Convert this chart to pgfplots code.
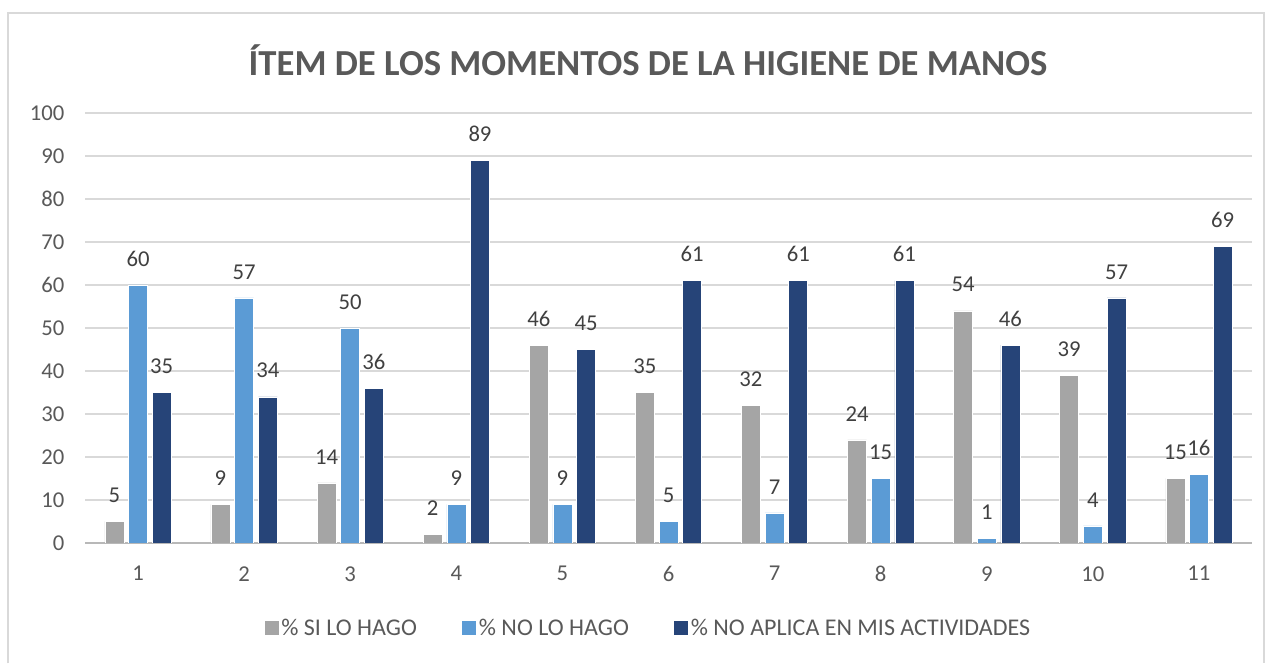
\documentclass[border=0pt]{standalone}
\usepackage{fontspec}
\setmainfont{Carlito}
\usepackage{pgfplots}
\pgfplotsset{compat=1.18}
\definecolor{siGray}{HTML}{A5A5A5}
\definecolor{noBlue}{HTML}{5B9BD5}
\definecolor{naBlue}{HTML}{264478}
\definecolor{txtGray}{HTML}{595959}
\definecolor{lblGray}{HTML}{404040}
\definecolor{gridGray}{HTML}{D9D9D9}

\begin{document}
\begin{tikzpicture}
    % page size (1268x658 px at 0.75pt/px) and the chart frame
    \path (0pt,0pt) rectangle (951pt,493.5pt);
    \draw[gridGray, line width=1.5pt] (6pt,-4pt) -- (6pt,483.75pt) -- (948pt,483.75pt) -- (948pt,-4pt);
    \node[font=\fontsize{27.5}{32}\selectfont\bfseries, text=txtGray] at (486pt,448.5pt)
        {ÍTEM DE LOS MOMENTOS DE LA HIGIENE DE MANOS};

    \begin{axis}[
        at={(63.75pt,86.25pt)}, anchor=south west,
        scale only axis,
        width=875.25pt, height=322.5pt,
        ybar=3.5pt,
        bar width=14.25pt,
        xmin=0.5, xmax=11.5,
        ymin=0, ymax=100,
        xtick={1,...,11},
        ytick={0,10,...,100},
        major tick length=0pt,
        axis x line*=bottom,
        axis y line*=left,
        y axis line style={draw=none},
        x axis line style={draw=gridGray!85!black, line width=1.2pt, -},
        ymajorgrids,
        grid style={gridGray, line width=1.2pt},
        /pgf/number format/assume math mode=true,
        tick label style={font=\fontsize{17}{20}\selectfont, text=txtGray},
        yticklabel style={xshift=-12pt},
        xticklabel style={yshift=-14pt},
        nodes near coords,
        every node near coord/.append style={font=\fontsize{17}{20}\selectfont, text=lblGray, yshift=10.5pt},
        legend style={
            at={(0.483,-0.198)}, anchor=center,
            draw=none, fill=none,
            legend columns=3,
            font=\fontsize{18}{21}\selectfont,
            text=txtGray,
            /tikz/every even column/.append style={column sep=32pt},
        },
        legend image code/.code={\draw[#1,draw=none] (0pt,-5.25pt) rectangle (10.5pt,5.25pt);},
    ]
        % % SI LO HAGO
        \addplot[fill=siGray, draw=white, line width=0.4pt] coordinates {
            (1,5) (2,9) (3,14) (4,2) (5,46) (6,35) (7,32) (8,24) (9,54) (10,39) (11,15)
        };
        \addlegendentry{\% SI LO HAGO}

        % % NO LO HAGO
        \addplot[fill=noBlue, draw=white, line width=0.4pt] coordinates {
            (1,60) (2,57) (3,50) (4,9) (5,9) (6,5) (7,7) (8,15) (9,1) (10,4) (11,16)
        };
        \addlegendentry{\% NO LO HAGO}

        % % NO APLICA EN MIS ACTIVIDADES
        \addplot[fill=naBlue, draw=white, line width=0.4pt] coordinates {
            (1,35) (2,34) (3,36) (4,89) (5,45) (6,61) (7,61) (8,61) (9,46) (10,57) (11,69)
        };
        \addlegendentry{\% NO APLICA EN MIS ACTIVIDADES}
    \end{axis}
\end{tikzpicture}
\end{document}
